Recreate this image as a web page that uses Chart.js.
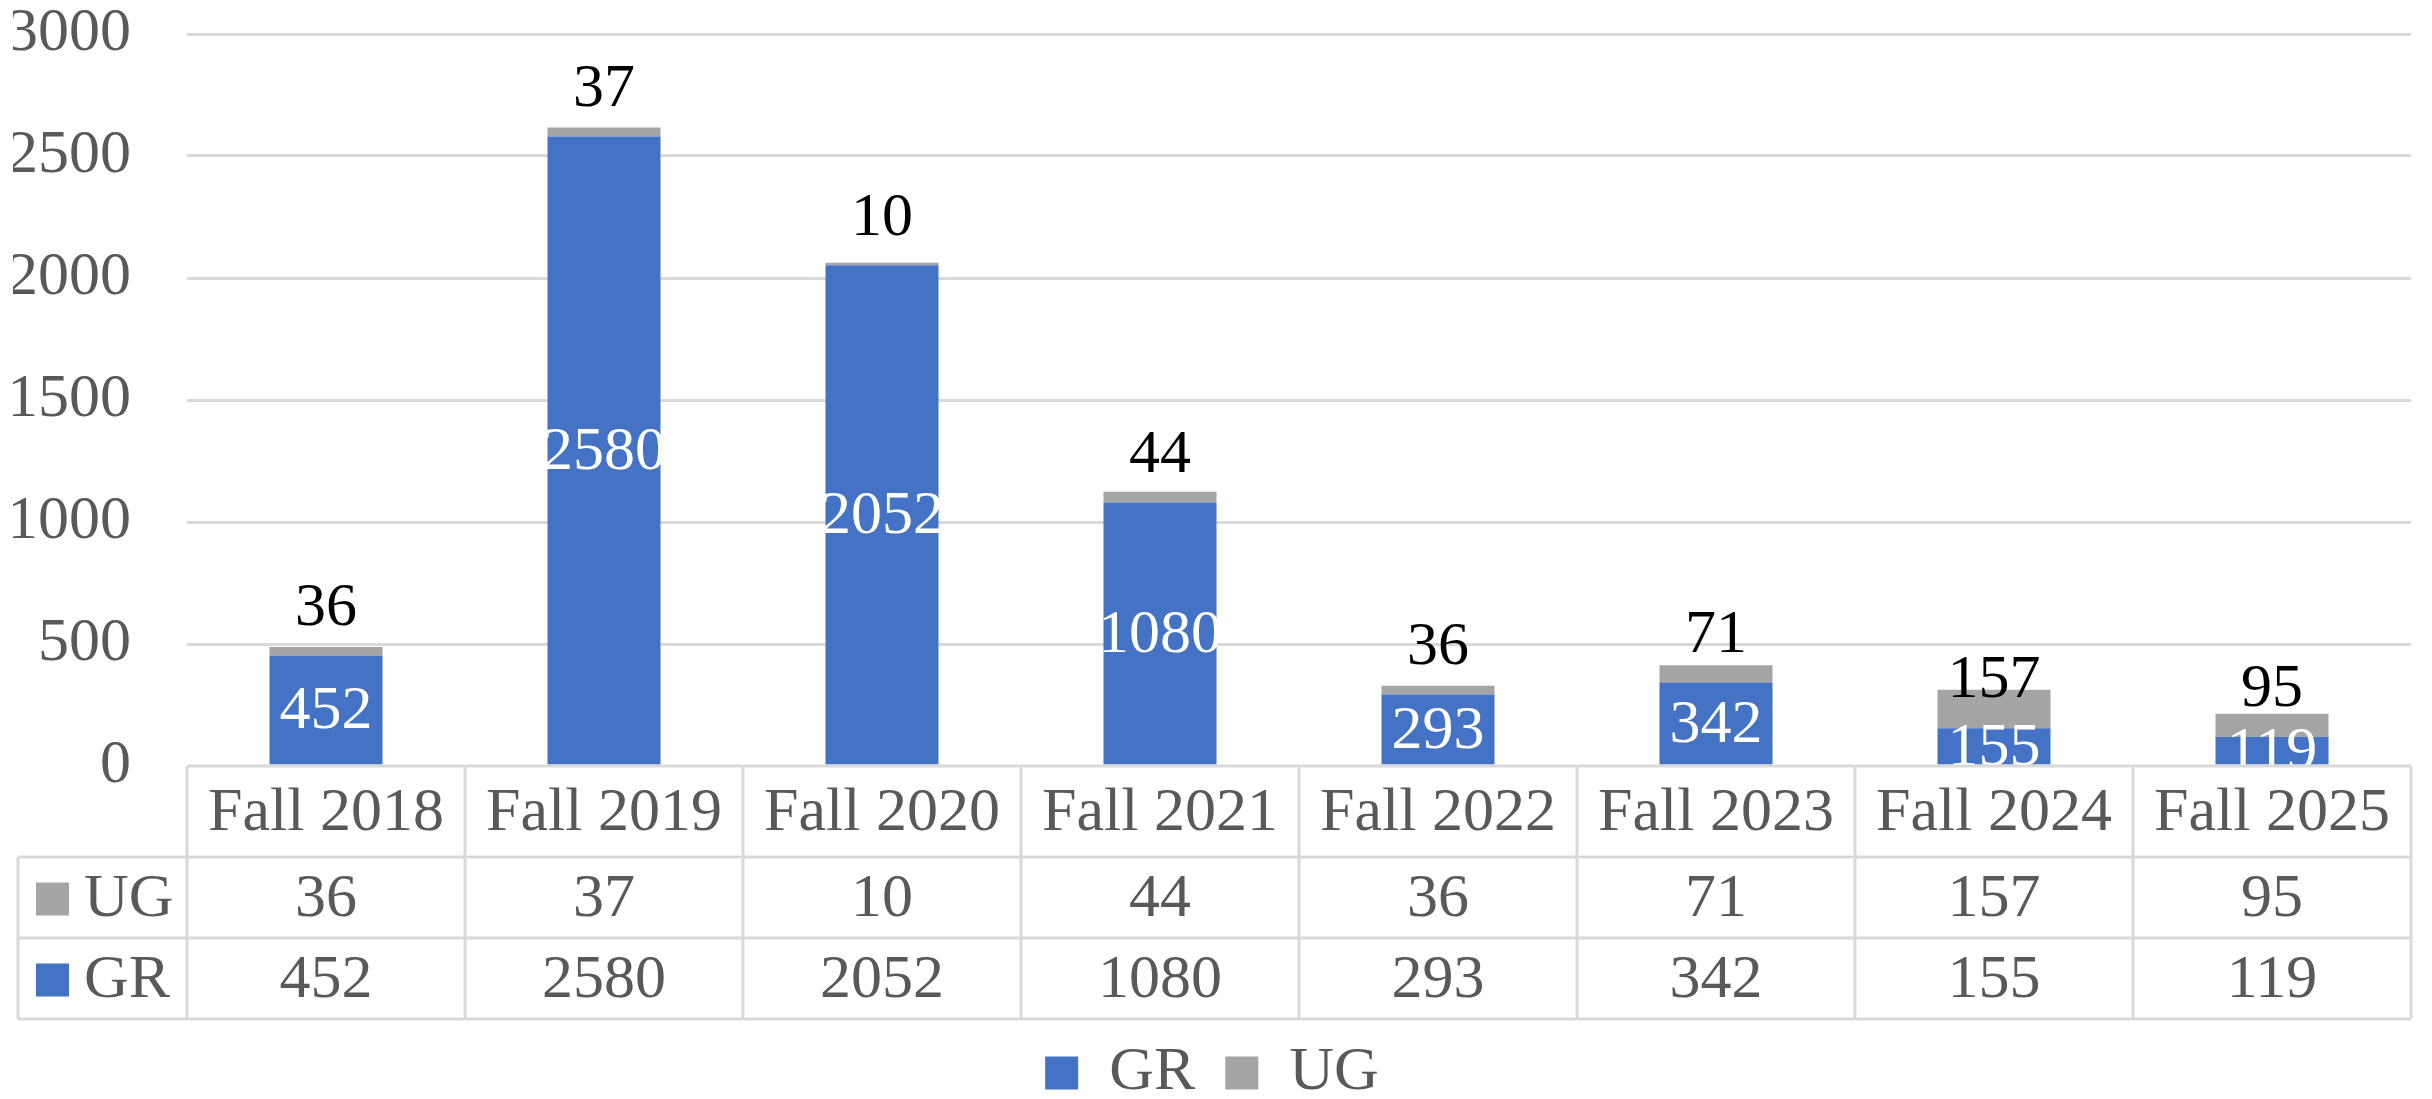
<!DOCTYPE html>
<html>
<head>
<meta charset="utf-8">
<title>GR / UG by Fall term</title>
<script src="https://cdn.jsdelivr.net/npm/chart.js@4.4.1/dist/chart.umd.min.js"></script>
<style>
  html, body { margin: 0; padding: 0; background: #ffffff; }
  #wrap { width: 2432px; height: 1099px; }
</style>
</head>
<body>
<div id="wrap"><canvas id="enrollChart" width="2432" height="1099"></canvas></div>
<script>
// ===============================
// Data
// ===============================
const terms = ["Fall 2018", "Fall 2019", "Fall 2020", "Fall 2021", "Fall 2022", "Fall 2023", "Fall 2024", "Fall 2025"];
const grValues = [452, 2580, 2052, 1080, 293, 342, 155, 119];
const ugValues = [36, 37, 10, 44, 36, 71, 157, 95];
const yTicks = [0, 500, 1000, 1500, 2000, 2500, 3000];

// ===============================
// Styles
// ===============================
const FONT = "'Liberation Serif', 'Times New Roman', serif";
const FONT_SIZE = 62;
const TEXT_GREY = "#595959";
const LINE_GREY = "#D9D9D9";
const GR_BLUE = "#4472C4";
const UG_GREY = "#A5A5A5";

// table rows (top to bottom) as drawn under the axis
const headerHeight = 91;
const rowHeight = 81;
const tableLeft = 18;

// ===============================
// Bar value labels
// ===============================
const barLabels = {
  id: "barLabels",
  afterDatasetsDraw(chart) {
    const ctx = chart.ctx;
    ctx.save();
    ctx.font = `${FONT_SIZE}px ${FONT}`;
    ctx.textAlign = "center";
    ctx.textBaseline = "middle";

    // GR: white, centred in segment
    chart.getDatasetMeta(0).data.forEach((bar, i) => {
      ctx.fillStyle = "#ffffff";
      ctx.fillText(String(grValues[i]), bar.x, (bar.y + bar.base) / 2 + 2);
    });

    // UG: black, sitting above the GR segment
    chart.getDatasetMeta(1).data.forEach((bar, i) => {
      ctx.fillStyle = "#000000";
      ctx.fillText(String(ugValues[i]), bar.x, bar.base - 47);
    });
    ctx.restore();
  },
};

// ===============================
// Data table under the plot
// ===============================
const dataTable = {
  id: "dataTable",
  afterDraw(chart) {
    const ctx = chart.ctx;
    const xs = chart.scales.x;
    const area = chart.chartArea;
    const left = area.left;
    const right = area.right;
    const colW = (right - left) / terms.length;
    const top = area.bottom;
    const row1 = top + headerHeight;
    const row2 = row1 + rowHeight;
    const row3 = row2 + rowHeight;

    ctx.save();
    // cover anything that spilled below the axis
    ctx.fillStyle = "#ffffff";
    ctx.fillRect(left, top, right - left + 2, headerHeight);

    // grid lines
    ctx.strokeStyle = LINE_GREY;
    ctx.lineWidth = 3;
    ctx.beginPath();
    ctx.moveTo(left, top);
    ctx.lineTo(right, top);
    [row1, row2, row3].forEach((y) => {
      ctx.moveTo(tableLeft, y);
      ctx.lineTo(right, y);
    });
    for (let i = 0; i <= terms.length; i++) {
      const x = left + i * colW;
      ctx.moveTo(x, top);
      ctx.lineTo(x, row3);
    }
    ctx.moveTo(tableLeft, row1);
    ctx.lineTo(tableLeft, row3);
    ctx.stroke();

    // text
    ctx.font = `${FONT_SIZE}px ${FONT}`;
    ctx.fillStyle = TEXT_GREY;
    ctx.textAlign = "center";
    ctx.textBaseline = "middle";
    terms.forEach((t, i) => {
      const cx = xs.getPixelForValue(i);
      ctx.fillText(t, cx, top + headerHeight / 2 + 2);
      ctx.fillText(String(ugValues[i]), cx, row1 + rowHeight / 2 + 2);
      ctx.fillText(String(grValues[i]), cx, row2 + rowHeight / 2 + 2);
    });

    // series keys
    const keys = [
      { name: "UG", color: UG_GREY, y: row1 + rowHeight / 2 },
      { name: "GR", color: GR_BLUE, y: row2 + rowHeight / 2 },
    ];
    ctx.textAlign = "left";
    keys.forEach((k) => {
      ctx.fillStyle = k.color;
      ctx.fillRect(36, k.y - 15, 33, 33);
      ctx.fillStyle = TEXT_GREY;
      ctx.fillText(k.name, 84, k.y + 2);
    });
    ctx.restore();
  },
};

// ===============================
// Setup Chart
// ===============================
function setupChart() {
  const ctx = document.getElementById("enrollChart").getContext("2d");

  Chart.defaults.font.family = FONT;
  Chart.defaults.font.size = FONT_SIZE;
  Chart.defaults.color = TEXT_GREY;

  new Chart(ctx, {
    type: "bar",
    data: {
      labels: terms,
      datasets: [
        {
          label: "GR",
          data: grValues,
          backgroundColor: GR_BLUE,
          barPercentage: 0.4065,
          categoryPercentage: 1,
        },
        {
          label: "UG",
          data: ugValues,
          backgroundColor: UG_GREY,
          barPercentage: 0.4065,
          categoryPercentage: 1,
        },
      ],
    },
    options: {
      responsive: false,
      animation: false,
      layout: {
        padding: { top: 34, right: 21, bottom: 0, left: 13 },
      },
      scales: {
        x: {
          stacked: true,
          grid: { display: false },
          border: { display: false },
          ticks: { display: false },
          afterFit(scale) {
            scale.height = 246;
          },
        },
        y: {
          stacked: true,
          min: 0,
          max: 3000,
          afterBuildTicks(scale) {
            scale.ticks = yTicks.map((v) => ({ value: v }));
          },
          grid: {
            color: LINE_GREY,
            lineWidth: 3,
            drawTicks: false,
          },
          border: { display: false },
          ticks: {
            padding: 56,
            color: TEXT_GREY,
            font: { size: FONT_SIZE },
            callback: (v) => String(v),
          },
          afterFit(scale) {
            scale.width = 174;
            scale.paddingTop = 0;
            scale.paddingBottom = 0;
          },
        },
      },
      plugins: {
        legend: {
          position: "bottom",
          maxHeight: 87,
          labels: {
            boxWidth: 33,
            boxHeight: 33,
            padding: 30,
            color: TEXT_GREY,
            font: { size: FONT_SIZE },
          },
        },
        tooltip: { enabled: false },
      },
    },
    plugins: [barLabels, dataTable],
  });
}

// ===============================
// Start
// ===============================
window.addEventListener("DOMContentLoaded", setupChart);
</script>
</body>
</html>
